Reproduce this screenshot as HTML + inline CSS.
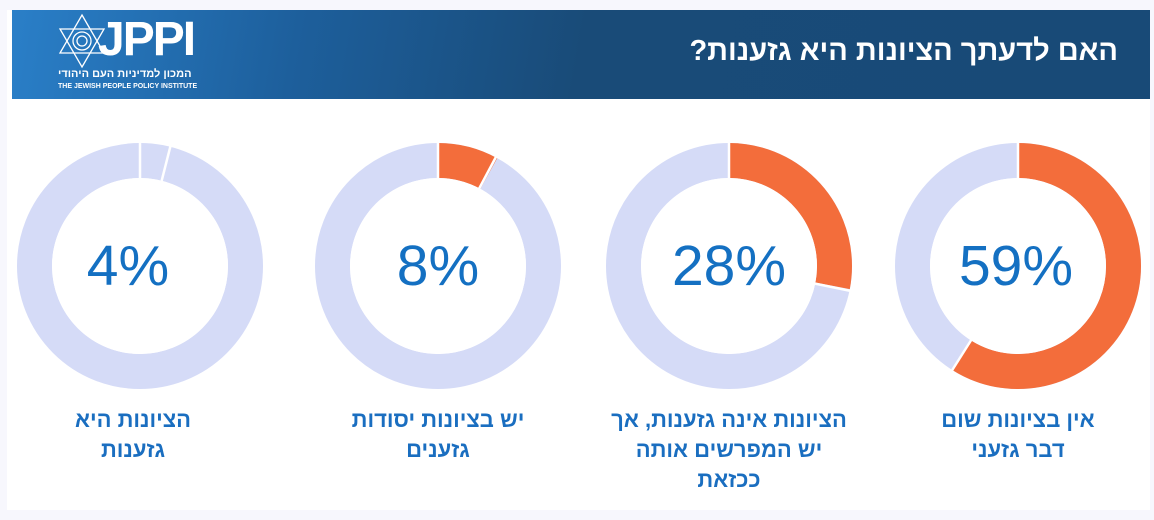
<!DOCTYPE html>
<html><head><meta charset="utf-8"><style>
body{margin:0;width:1154px;height:520px;background:#f7f7fd;overflow:hidden;font-family:"Liberation Sans","Noto Sans CJK SC",sans-serif}
.card{position:absolute;left:7px;top:10px;width:1143px;height:500px;background:#fff}
.hdr{position:absolute;left:12px;top:10px;width:1138px;height:89px;background:linear-gradient(100deg,#2a7fc8 0%,#1d5f9c 25%,#194b78 50%,#184a77 100%)}
.title{position:absolute;right:32px;top:25px;color:#fff;font-size:29px;font-weight:bold;direction:rtl;white-space:nowrap;font-family:"Liberation Sans","WenQuanYi Zen Hei",sans-serif}
.lbl{position:absolute;width:300px;text-align:center;direction:rtl;color:#1a6ec0;font-weight:bold;font-size:22px;line-height:30px;top:405px;font-family:"Liberation Sans","WenQuanYi Zen Hei",sans-serif}
</style></head><body>
<div class="card"></div>
<div class="hdr">
<svg style="position:absolute;left:42px;top:1px" width="56" height="60" viewBox="0 0 56 60"><g fill="none" stroke="#fff" stroke-width="1.3"><polygon points="28,4 50,42 6,42"/><polygon points="28,56 50,18 6,18"/><circle cx="28" cy="30" r="9"/><circle cx="28" cy="30" r="5"/></g></svg>
<div style="position:absolute;left:86px;top:2px;color:#fff;font-size:48px;font-weight:bold;letter-spacing:-2px">JPPI</div>
<div style="position:absolute;left:46px;top:58px;color:#fff;font-size:11px;font-weight:bold;direction:rtl;white-space:nowrap;width:140px;text-align:left">המכון למדיניות העם היהודי</div>
<div style="position:absolute;left:46px;top:73px;color:#fff;font-size:7px;font-weight:bold;white-space:nowrap">THE JEWISH PEOPLE POLICY INSTITUTE</div>
<div class="title">האם לדעתך הציונות היא גזענות?</div>
</div>
<svg style="position:absolute;left:0;top:0" width="1154" height="520">
<g fill="none" stroke-width="35">
<circle cx="140" cy="266" r="105.5" stroke="#d5dbf7"/>
<circle cx="438" cy="266" r="105.5" stroke="#d5dbf7"/>
<circle cx="438" cy="266" r="105.5" stroke="#f36d3b" stroke-dasharray="53 700" transform="rotate(-90 438 266)"/>
<circle cx="729" cy="266" r="105.5" stroke="#d5dbf7"/>
<circle cx="729" cy="266" r="105.5" stroke="#f36d3b" stroke-dasharray="185.6 700" transform="rotate(-90 729 266)"/>
<circle cx="1018" cy="266" r="105.5" stroke="#d5dbf7"/>
<circle cx="1018" cy="266" r="105.5" stroke="#f36d3b" stroke-dasharray="391 700" transform="rotate(-90 1018 266)"/>
</g>
<g stroke="#fff" stroke-width="2.5">
<line x1="140" y1="140" x2="140" y2="180"/>
<line x1="438" y1="140" x2="438" y2="180"/>
<line x1="729" y1="140" x2="729" y2="180"/>
<line x1="1018" y1="140" x2="1018" y2="180"/>
<line x1="140" y1="266" x2="171.3" y2="142.8"/>
<line x1="438" y1="266" x2="497" y2="155"/>
<line x1="729" y1="266" x2="851" y2="291"/>
<line x1="1018" y1="266" x2="951" y2="372"/>
</g>
<g fill="#fff"><circle cx="140" cy="266" r="88"/><circle cx="438" cy="266" r="88"/><circle cx="729" cy="266" r="88"/><circle cx="1018" cy="266" r="88"/></g>
<g fill="#1470c2" font-size="57" text-anchor="middle" font-family="Liberation Sans, sans-serif">
<text x="128" y="285">4%</text><text x="438" y="285">8%</text><text x="729" y="285">28%</text><text x="1016" y="285">59%</text>
</g>
</svg>
<div class="lbl" style="left:-17px">הציונות היא<br>גזענות</div>
<div class="lbl" style="left:288px">יש בציונות יסודות<br>גזענים</div>
<div class="lbl" style="left:579px">הציונות אינה גזענות, אך<br>יש המפרשים אותה<br>ככזאת</div>
<div class="lbl" style="left:868px">אין בציונות שום<br>דבר גזעני</div>
</body></html>
